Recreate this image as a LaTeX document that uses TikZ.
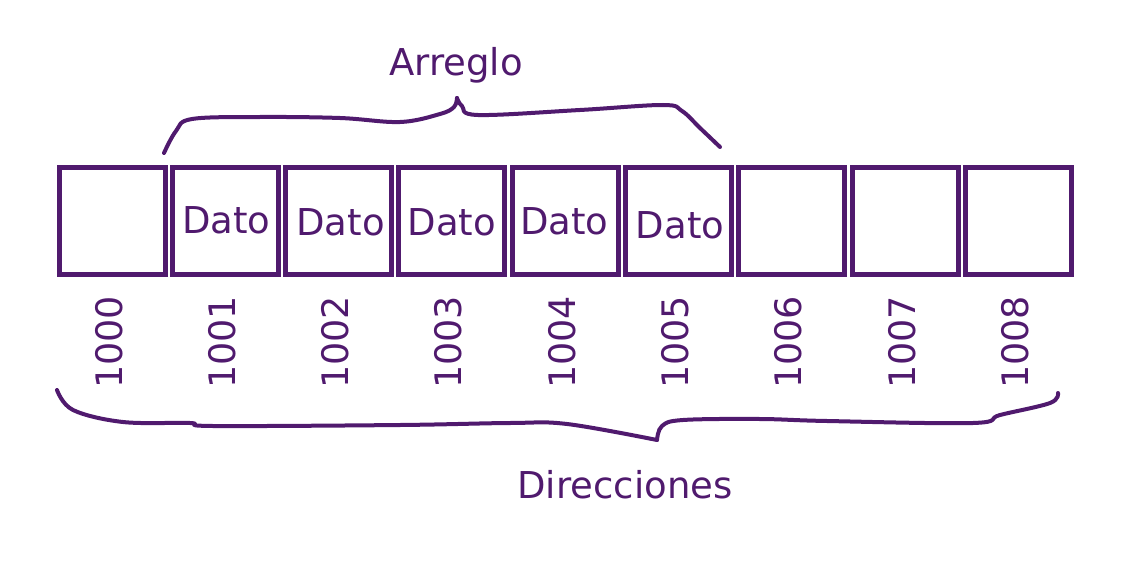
\documentclass[tikz,border=0pt]{standalone}
\usepackage{fontspec}
\setmainfont{DejaVu Sans}
\definecolor{morado}{RGB}{80,26,110}
\begin{document}
\begin{tikzpicture}[x=1pt,y=-1pt,
	caja/.style={draw=morado,line width=5pt,minimum width=106pt,minimum height=107pt,inner sep=0pt},
	texto/.style={text=morado,inner sep=0pt,font=\fontsize{37}{44}\selectfont},
	num/.style={rotate=90,anchor=base west,text=morado,inner sep=0pt,font=\fontsize{36.5}{43}\selectfont},
	llave/.style={draw=morado,line width=4pt,line cap=round,line join=round}]
	\useasboundingbox (0,0) rectangle (1134,567);
	% celdas y direcciones
	\foreach \i [evaluate=\i as \dir using int(1000+\i)] in {0,...,8}{
		\node[caja] (c\i) at ({112+113.3*\i},221) {};
		\node[num] (n\i) at ({122+113.3*\i},389) {\dir};
	}
	\foreach \i/\dx/\y in {1/1/233,2/2/235,3/0/235,4/-1/234,5/1.5/238}
		\node[texto,anchor=base] (d\i) at ({112+113.3*\i+\dx},\y) {Dato};
	% llave de arriba
	\draw[llave] plot[smooth,tension=0.6] coordinates {(164,153) (176,131) (192,119) (260,117) (340,118) (400,122) (440,114) (454,107) (457,98)};
	\draw[llave] plot[smooth,tension=0.6] coordinates {(457,98) (462,106) (478,115) (580,110) (663,105) (682,111) (700,128) (720,147)};
	% llave de abajo
	\draw[llave] plot[smooth,tension=0.6] coordinates {(57,390) (73,410) (123,422) (190,423) (213,426) (400,425) (510,423) (567,424) (657,440)};
	\draw[llave] plot[smooth,tension=0.6] coordinates {(657,440) (662,426) (683,420) (760,419) (827,421) (973,423) (1000,415) (1050,403) (1058,393)};
	\node[texto,anchor=base] (arreglo) at (456,76) {Arreglo};
	\node[texto,anchor=base] (direcciones) at (625,498) {Direcciones};
\end{tikzpicture}
\end{document}
